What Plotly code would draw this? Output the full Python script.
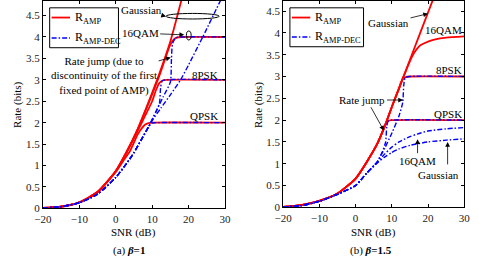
import plotly.graph_objects as go

# ---------------- data: panel (a) beta = 1 ----------------
a_red_gauss_snr = [-20, -15, -10, -5, 0, 3, 6, 9, 12, 15, 18]
a_red_gauss_R   = [0.01, 0.04, 0.14, 0.38, 0.87, 1.32, 1.85, 2.48, 3.15, 3.9, 4.85]
a_red_16qam_snr = [-20, -15, -10, -5, 0, 3, 6, 9, 12, 14, 15, 16, 17, 18, 30]
a_red_16qam_R   = [0.01, 0.04, 0.14, 0.38, 0.87, 1.32, 1.84, 2.45, 3.1, 3.6, 3.82, 3.95, 3.99, 4.0, 4.0]
a_red_8psk_snr  = [-20, -15, -10, -5, 0, 3, 6, 8, 10, 11, 12, 13, 14, 30]
a_red_8psk_R    = [0.01, 0.04, 0.14, 0.38, 0.86, 1.3, 1.8, 2.15, 2.5, 2.75, 2.93, 2.99, 3.0, 3.0]
a_red_qpsk_snr  = [-20, -15, -10, -5, 0, 2, 4, 6, 7, 8, 9, 10, 30]
a_red_qpsk_R    = [0.01, 0.04, 0.14, 0.38, 0.85, 1.1, 1.35, 1.72, 1.85, 1.95, 1.99, 2.0, 2.0]

a_blue_gauss_snr = [-20, -15, -10, -5, 0, 3, 5, 7, 9, 10, 12.4, 15, 17.8, 20, 24, 28.7, 30]
a_blue_gauss_R   = [0.01, 0.04, 0.13, 0.33, 0.72, 1.05, 1.3, 1.6, 1.9, 2.05, 2.34, 2.65, 3.0, 3.35, 4.02, 4.84, 5.05]
a_blue_16qam_snr = [-20, -15, -10, -5, 0, 3, 5, 7, 9, 11, 13, 15, 15.3, 15.6, 16.5, 18, 30]
a_blue_16qam_R   = [0.01, 0.04, 0.13, 0.33, 0.72, 1.05, 1.3, 1.6, 1.9, 2.25, 2.6, 2.95, 3.5, 3.85, 3.98, 4.0, 4.0]
a_blue_8psk_snr  = [-20, -15, -10, -5, 0, 3, 5, 7, 9, 11, 12, 12.3, 12.7, 13.5, 30]
a_blue_8psk_R    = [0.01, 0.04, 0.13, 0.33, 0.72, 1.05, 1.3, 1.6, 1.9, 2.25, 2.45, 2.8, 2.97, 3.0, 3.0]
a_blue_qpsk_snr  = [-20, -15, -10, -5, 0, 3, 5, 7, 9, 9.8, 11, 30]
a_blue_qpsk_R    = [0.01, 0.04, 0.13, 0.33, 0.72, 1.05, 1.3, 1.6, 1.9, 1.99, 2.0, 2.0]

# ---------------- data: panel (b) beta = 1.5 ----------------
b_red_gauss_snr = [-20, -15, -10, -5, 0, 3, 6, 8, 10, 13, 16, 19, 22]
b_red_gauss_R   = [0.01, 0.05, 0.15, 0.32, 0.66, 1.03, 1.46, 1.85, 2.3, 2.95, 3.6, 4.25, 4.9]
b_red_16qam_snr = [-20, -15, -10, -5, 0, 3, 6, 8, 10, 13, 14, 15, 16, 17, 18, 20, 22, 25, 30]
b_red_16qam_R   = [0.01, 0.05, 0.15, 0.32, 0.66, 1.03, 1.46, 1.85, 2.3, 2.95, 3.15, 3.35, 3.52, 3.64, 3.72, 3.8, 3.85, 3.89, 3.92]
b_red_8psk_snr  = [-20, -15, -10, -5, 0, 3, 6, 8, 10, 11, 12, 12.5, 13, 14, 15, 30]
b_red_8psk_R    = [0.01, 0.05, 0.15, 0.32, 0.66, 1.03, 1.46, 1.85, 2.3, 2.52, 2.72, 2.85, 2.94, 2.99, 3.0, 3.0]
b_red_qpsk_snr  = [-20, -15, -10, -5, 0, 3, 6, 7, 7.5, 8, 8.5, 9, 10, 30]
b_red_qpsk_R    = [0.01, 0.05, 0.15, 0.32, 0.66, 1.03, 1.46, 1.65, 1.75, 1.85, 1.93, 1.98, 2.0, 2.0]

b_blue_gauss_snr = [-20, -15, -10, -5, 0, 3, 6, 8, 10, 12, 15, 20, 25, 30]
b_blue_gauss_R   = [0.01, 0.04, 0.14, 0.3, 0.5, 0.78, 1.02, 1.15, 1.26, 1.34, 1.42, 1.5, 1.54, 1.57]
b_blue_16qam_snr = [-20, -15, -10, -5, 0, 3, 6, 8, 10, 12, 15, 17, 20, 25, 30]
b_blue_16qam_R   = [0.01, 0.04, 0.14, 0.3, 0.5, 0.78, 1.03, 1.22, 1.38, 1.5, 1.62, 1.68, 1.75, 1.8, 1.83]
b_blue_8psk_snr  = [-20, -15, -10, -5, 0, 3, 6, 8, 10, 12, 13, 13.3, 13.7, 15, 30]
b_blue_8psk_R    = [0.01, 0.04, 0.14, 0.3, 0.5, 0.78, 1.05, 1.35, 1.7, 2.1, 2.4, 2.8, 2.97, 3.0, 3.0]
b_blue_qpsk_snr  = [-20, -15, -10, -5, 0, 3, 6, 7.5, 8.3, 8.6, 9, 10, 30]
b_blue_qpsk_R    = [0.01, 0.04, 0.14, 0.3, 0.5, 0.78, 1.05, 1.3, 1.5, 1.85, 1.98, 2.0, 2.0]

x_ticks = [-20, -10, 0, 10, 20, 30]
y_ticks = [0, 0.5, 1, 1.5, 2, 2.5, 3, 3.5, 4, 4.5]
y_tick_text = ["0", "0.5", "1", "1.5", "2", "2.5", "3", "3.5", "4", "4.5"]
legend_names = ["R<sub>AMP</sub>", "R<sub>AMP-DEC</sub>"]

RED = "#ff0000"
BLUE = "#0000ff"
FONT = "Liberation Serif"
DD = "5px,2px,1.5px,2px"
W, H = 479, 263

fig = go.Figure()

def add(xs, ys, color, panel, name="", dash="solid", width=1.8):
    fig.add_trace(go.Scatter(
        x=xs, y=ys, mode="lines",
        xaxis="x" if panel == 1 else "x2", yaxis="y" if panel == 1 else "y2",
        line=dict(color=color, width=width, dash=dash, shape="spline", smoothing=0.6),
        name=name, showlegend=False))

# panel a
add(a_red_gauss_snr, a_red_gauss_R, RED, 1, legend_names[0])
add(a_red_16qam_snr, a_red_16qam_R, RED, 1, legend_names[0])
add(a_red_8psk_snr, a_red_8psk_R, RED, 1, legend_names[0])
add(a_red_qpsk_snr, a_red_qpsk_R, RED, 1, legend_names[0])
add(a_blue_gauss_snr, a_blue_gauss_R, BLUE, 1, legend_names[1], DD, 1.4)
add(a_blue_16qam_snr, a_blue_16qam_R, BLUE, 1, legend_names[1], DD, 1.4)
add(a_blue_8psk_snr, a_blue_8psk_R, BLUE, 1, legend_names[1], DD, 1.4)
add(a_blue_qpsk_snr, a_blue_qpsk_R, BLUE, 1, legend_names[1], DD, 1.4)
# panel b
add(b_red_gauss_snr, b_red_gauss_R, RED, 2, legend_names[0])
add(b_red_16qam_snr, b_red_16qam_R, RED, 2, legend_names[0])
add(b_red_8psk_snr, b_red_8psk_R, RED, 2, legend_names[0])
add(b_red_qpsk_snr, b_red_qpsk_R, RED, 2, legend_names[0])
add(b_blue_gauss_snr, b_blue_gauss_R, BLUE, 2, legend_names[1], DD, 1.4)
add(b_blue_16qam_snr, b_blue_16qam_R, BLUE, 2, legend_names[1], DD, 1.4)
add(b_blue_8psk_snr, b_blue_8psk_R, BLUE, 2, legend_names[1], DD, 1.4)
add(b_blue_qpsk_snr, b_blue_qpsk_R, BLUE, 2, legend_names[1], DD, 1.4)

axis_common = dict(showgrid=False, zeroline=False, showline=True, linecolor="black",
                   linewidth=1, mirror="ticks", ticks="inside", ticklen=3,
                   tickcolor="black", tickfont=dict(family=FONT, size=11, color="#222"))

fig.update_layout(
    width=W, height=H, margin=dict(l=0, r=0, t=0, b=0),
    paper_bgcolor="white", plot_bgcolor="white", showlegend=False,
    font=dict(family=FONT, size=11, color="black"),
    xaxis=dict(domain=[35 / W, 223 / W], range=[-20, 30], tickvals=x_ticks,
               anchor="y", **axis_common),
    yaxis=dict(domain=[50 / H, 1.0], range=[0, 4.84], tickvals=y_ticks,
               ticktext=y_tick_text, anchor="x", **axis_common),
    xaxis2=dict(domain=[283 / W, 470 / W], range=[-20, 30], tickvals=x_ticks,
                anchor="y2", **axis_common),
    yaxis2=dict(domain=[51 / H, 1.0], range=[0, 4.73], tickvals=y_ticks,
                ticktext=y_tick_text, anchor="x2", **axis_common),
)

ann = []
def txt(x, y, t, xref, yref, size=11, **kw):
    d = dict(x=x, y=y, text=t, xref=xref, yref=yref, showarrow=False,
             xanchor="center", yanchor="middle",
             font=dict(family=FONT, size=size, color="black"))
    d.update(kw)
    ann.append(d)

def arrow(x, y, ax, ay, xref, yref, t="", **kw):
    d = dict(x=x, y=y, ax=ax, ay=ay, xref=xref, yref=yref, axref=xref, ayref=yref,
             text=t, showarrow=True, arrowhead=2, arrowsize=1.2, arrowwidth=0.8,
             arrowcolor="black", font=dict(family=FONT, size=11, color="black"))
    d.update(kw)
    ann.append(d)

# panel a annotations
arrow(13.8, 4.48, 7.1, 4.64, "x", "y", "Gaussian")
arrow(18.8, 4.05, 6.7, 4.09, "x", "y", "16QAM")
arrow(15.1, 3.52, -3.2, 3.09, "x", "y",
      "Rate jump (due to<br>discontinuity of the first<br>fixed point of AMP)")
txt(28.7, 3.12, "8PSK", "x", "y", xanchor="right")
txt(28.7, 2.16, "QPSK", "x", "y", xanchor="right")

# panel b annotations
arrow(20.0, 4.44, 9.1, 4.22, "x2", "y2", "Gaussian")
arrow(30.2, 3.97, 24.3, 4.06, "x2", "y2", "16QAM", arrowhead=0)
txt(29.8, 3.15, "8PSK", "x2", "y2", xanchor="right")
txt(29.8, 2.14, "QPSK", "x2", "y2", xanchor="right")
arrow(13.1, 2.46, 1.9, 2.46, "x2", "y2", "Rate jump")
arrow(7.8, 1.76, 4.0, 2.33, "x2", "y2", "", standoff=0)
arrow(17.1, 1.56, 17.1, 1.07, "x2", "y2", "16QAM")
txt(23.0, 0.74, "Gaussian", "x2", "y2")
arrow(25.4, 1.5, 25.4, 0.95, "x2", "y2", "", standoff=0)

# axis titles and captions (paper coordinates from pixel positions)
txt(8 / W, 1 - 107 / H, "Rate (bits)", "paper", "paper", textangle=-90)
txt(257 / W, 1 - 107 / H, "Rate (bits)", "paper", "paper", textangle=-90)
txt(129 / W, 1 - 238 / H, "SNR (dB)", "paper", "paper")
txt(376 / W, 1 - 238 / H, "SNR (dB)", "paper", "paper")
txt(124 / W, 1 - 256 / H, "(a) <b><i>β</i>=1</b>", "paper", "paper")
txt(374 / W, 1 - 256 / H, "(b) <b><i>β</i>=1.5</b>", "paper", "paper")

# hand-placed legend boxes (one per panel)
def legend_box(x0, x1, y0, y1, y_first, y_second):
    fig.add_shape(type="rect", xref="paper", yref="paper", x0=x0 / W, x1=x1 / W,
                  y0=1 - y1 / H, y1=1 - y0 / H, line=dict(color="black", width=1),
                  fillcolor="white", layer="above")
    fig.add_shape(type="line", xref="paper", yref="paper", x0=(x0 + 2) / W, x1=(x0 + 21) / W,
                  y0=1 - y_first / H, y1=1 - y_first / H, line=dict(color=RED, width=1.8),
                  layer="above")
    fig.add_shape(type="line", xref="paper", yref="paper", x0=(x0 + 2) / W, x1=(x0 + 21) / W,
                  y0=1 - y_second / H, y1=1 - y_second / H,
                  line=dict(color=BLUE, width=1.4, dash=DD), layer="above")
    txt((x0 + 24) / W, 1 - y_first / H, legend_names[0], "paper", "paper", size=12,
        xanchor="left")
    txt((x0 + 24) / W, 1 - y_second / H, legend_names[1], "paper", "paper", size=12,
        xanchor="left")

legend_box(42, 113, 7, 48, 17, 38)
legend_box(290, 366, 7, 47, 17, 37)

fig.update_layout(annotations=ann)

# ellipses (panel a)
fig.add_shape(type="circle", xref="x", yref="y", x0=13.8, x1=28.4, y0=4.42, y1=4.55,
              line=dict(color="black", width=1))
fig.add_shape(type="circle", xref="x", yref="y", x0=19.4, x1=20.7, y0=3.93, y1=4.14,
              line=dict(color="black", width=1))

fig.write_html("out.html", config={"displayModeBar": False})

# remove default page margins so the figure fills the window exactly
with open("out.html", "r", encoding="utf-8") as f:
    html = f.read()
html = html.replace("<head>", "<head><style>html,body{margin:0;padding:0;overflow:hidden;}</style>", 1)
with open("out.html", "w", encoding="utf-8") as f:
    f.write(html)
